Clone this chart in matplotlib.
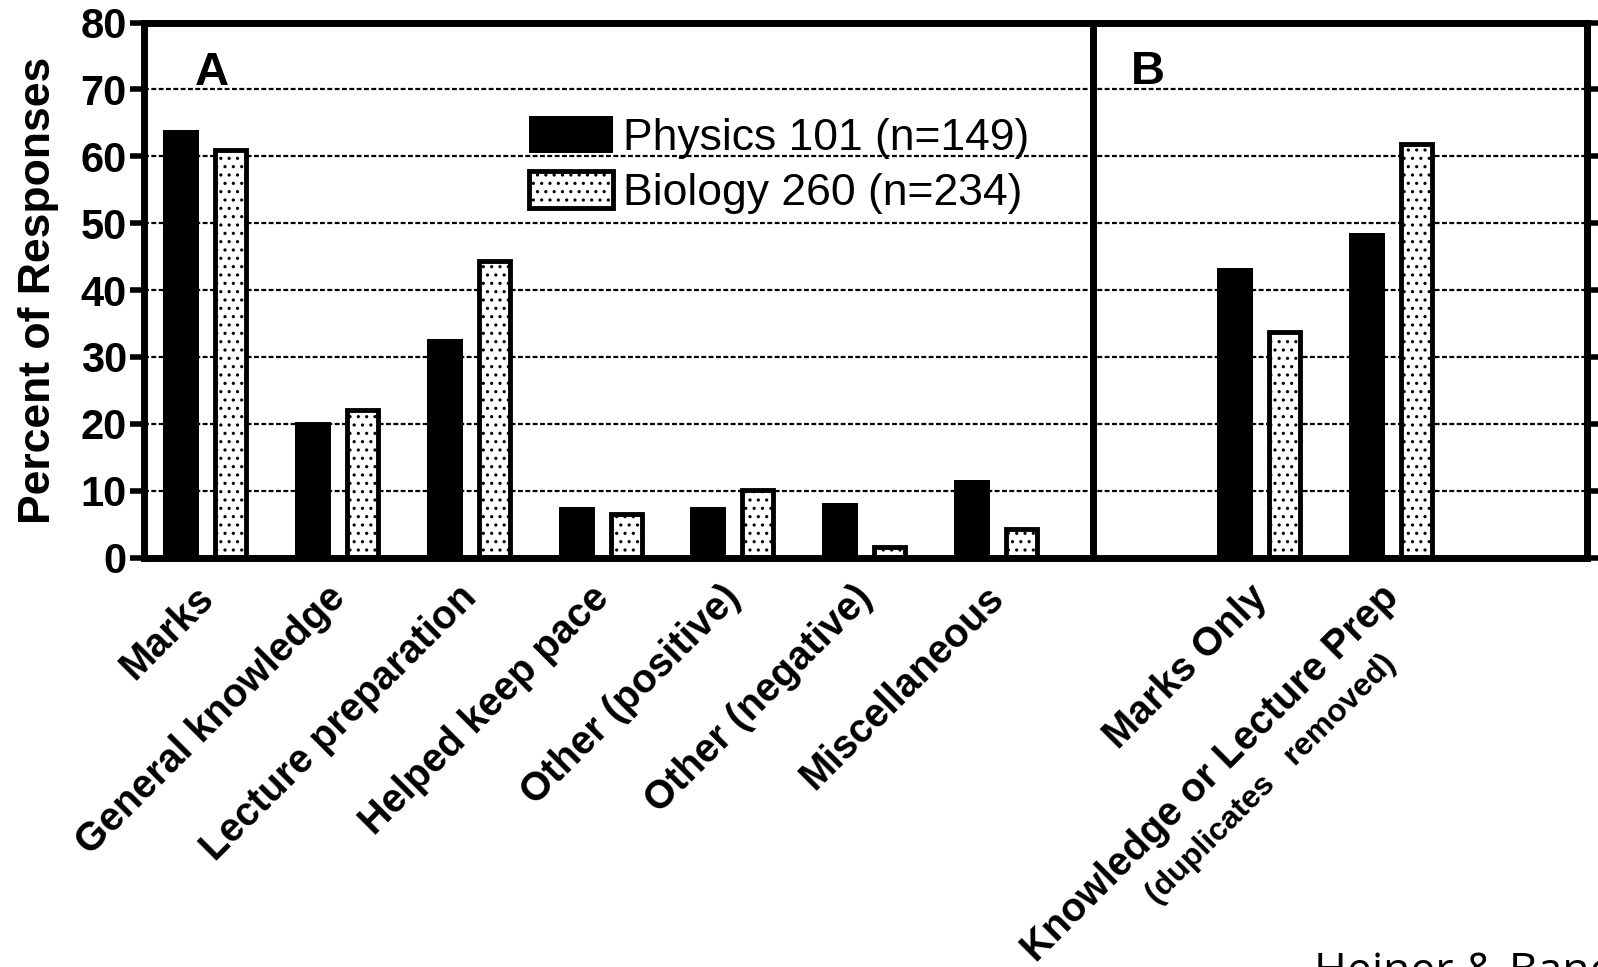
import matplotlib
matplotlib.use('Agg')
import matplotlib.pyplot as plt
import matplotlib.transforms as mtransforms
import numpy as np

plt.rcParams['font.family'] = ['Liberation Sans', 'DejaVu Sans']
plt.rcParams['hatch.linewidth'] = 1.1
plt.rcParams['hatch.color'] = 'black'

# ---------------- data ----------------
categories_a = ['Marks', 'General knowledge', 'Lecture preparation',
                'Helped keep pace', 'Other (positive)', 'Other (negative)',
                'Miscellaneous']
physics_a = [64.0, 20.3, 32.6, 7.5, 7.5, 8.2, 11.6]
biology_a = [61.0, 22.0, 44.3, 6.5, 10.1, 1.6, 4.2]

categories_b = ['Marks Only', 'Knowledge or Lecture Prep']
categories_b_sub = ['', '(duplicates   removed)']
physics_b = [43.3, 48.5]
biology_b = [33.7, 61.8]

series_names = ['Physics 101 (n=149)', 'Biology 260 (n=234)']
panel_labels = ['A', 'B']
yticks = [0, 10, 20, 30, 40, 50, 60, 70, 80]
source_note = 'Heiner & Banet'

# ---------------- layout ----------------
W, H = 1598, 967
fig = plt.figure(figsize=(W / 100, H / 100), dpi=100)
ax = fig.add_axes([143.5 / W, 1 - 557.5 / H, (1587 - 143.5) / W, (557.5 - 22.5) / H])

x_a = np.arange(len(categories_a))
x_b = np.arange(len(categories_b)) + len(categories_a) + 1
x_all = np.concatenate([x_a, x_b])
phys_all = physics_a + physics_b
bio_all = biology_a + biology_b

off = 0.188
bars_p = ax.bar(x_all - off, phys_all, width=0.273, color='black',
                edgecolor='black', linewidth=0, zorder=2)
bars_b = ax.bar(x_all + off, bio_all, width=0.235, color='white',
                edgecolor='black', linewidth=3.5, hatch='..', zorder=2)

ax.set_xlim(-0.476, 10.484)
ax.set_ylim(0, 80)
ax.set_yticks(yticks)

# grid
ax.yaxis.grid(True, color='black', linestyle=(0, (2.2, 1.1)), linewidth=1.6)
ax.xaxis.grid(False)
ax.set_axisbelow(True)

# spines
for s in ax.spines.values():
    s.set_linewidth(5)
    s.set_color('black')

# divider between panels
ax.axvline(len(categories_a) - 0.267, color='black', linewidth=5, zorder=3)

# y ticks
ax.tick_params(axis='y', direction='out', length=10, width=4, labelsize=30,
               pad=2, right=True, labelright=False, colors='black')
for lab in ax.get_yticklabels():
    lab.set_fontweight('bold')

# x tick labels
ax.set_xticks(x_all)
ax.set_xticklabels(categories_a + categories_b, rotation=45, ha='right',
                   rotation_mode='anchor', fontsize=28.5, fontweight='bold')
ax.tick_params(axis='x', length=0, pad=15)
shift = mtransforms.ScaledTranslation(-12 / 100, 0, fig.dpi_scale_trans)
for lab in ax.get_xticklabels():
    lab.set_transform(lab.get_transform() + shift)

# second line of the last label
blend = mtransforms.blended_transform_factory(ax.transData, ax.transAxes)
for xi, sub in zip(x_b, categories_b_sub):
    if sub:
        ax.text(xi, 0, sub, rotation=45, ha='right', va='top',
                rotation_mode='anchor', fontsize=23, fontweight='bold',
                transform=blend + mtransforms.ScaledTranslation(
                    -11 / 100, -(21 + 70) / 100, fig.dpi_scale_trans))

# y label
ax.set_ylabel('Percent of Responses', fontsize=32, fontweight='bold')
ax.yaxis.set_label_coords(-0.0585, 0.5)

# panel letters
ax.text(-0.085, 70.6, panel_labels[0], fontsize=34, fontweight='bold',
        ha='left', va='baseline')
ax.text(7.02, 70.8, panel_labels[1], fontsize=34, fontweight='bold',
        ha='left', va='baseline')

# legend
ax.legend(handles=[bars_p, bars_b], labels=series_names, loc='upper left',
          bbox_to_anchor=(529.4 / W, 1 - 116 / H), bbox_transform=fig.transFigure,
          frameon=False, fontsize=32, handlelength=1.89, handleheight=0.9,
          handletextpad=0.21, labelspacing=0.27, borderpad=0, borderaxespad=0)

# source note (cut off at the bottom-right edge, as in the source image)
fig.text(1314 / W, 1 - 984 / H, source_note, fontsize=32,
         family=['Open Sans', 'DejaVu Sans'], ha='left', va='baseline')

fig.savefig('out.png', dpi=100)
